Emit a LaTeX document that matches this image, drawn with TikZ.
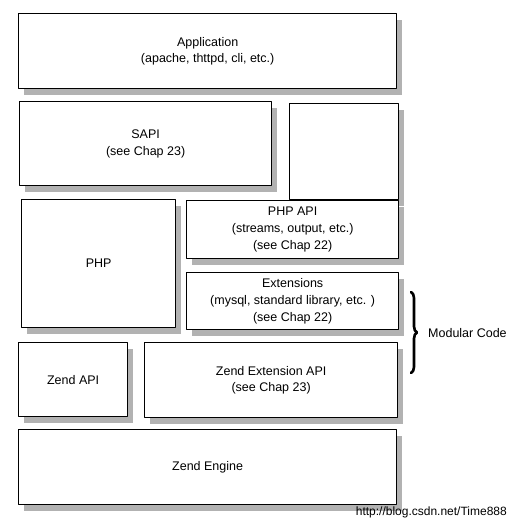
\documentclass[tikz,border=0pt]{standalone}
\usepackage{fontspec}
\setmainfont{Liberation Sans}
\usepackage{tikz}
\usetikzlibrary{decorations.pathreplacing}
\definecolor{sqsqsq}{rgb}{0.7,0.7,0.7}
\definecolor{qqqqqq}{rgb}{0.0,0.0,0.0}
\tikzset{
  layer/.style={draw=qqqqqq,line width=1.3pt,fill=white,inner sep=0pt,align=center,
    anchor=north west,font=\fontsize{12.5}{16.7}\selectfont},
  plain/.style={font=\fontsize{12.5}{16.7}\selectfont,inner sep=0pt}
}
\begin{document}
\begin{tikzpicture}[line cap=round,line join=round,x=1pt,y=-1pt]
\useasboundingbox (0,0) rectangle (518,529);
% shadows first, the boxes go on top
\foreach \x/\y/\w/\h in {18/13/378/75,19/101/252/84,289/103/109/96,21/199/154/128,186/200/212/58,186/272/212/57,18/342/109/74,144/342/253/75,18/429/378/75}
  \fill[color=sqsqsq] (\x+6,\y+7) rectangle (\x+\w+6,\y+\h+7);
\node[layer,minimum width=378pt,minimum height=75pt] (app) at (18,13) {Application\\(apache, thttpd, cli, etc.)};
\node[layer,minimum width=252pt,minimum height=84pt] (sapi) at (19,101) {SAPI\\(see Chap 23)};
\node[layer,minimum width=109pt,minimum height=96pt] (top) at (289,103) {};
\node[layer,minimum width=154pt,minimum height=128pt] (php) at (21,199) {PHP};
\node[layer,minimum width=212pt,minimum height=58pt] (phpapi) at (186,200) {PHP API\\(streams, output, etc.)\\(see Chap 22)};
\node[layer,minimum width=212pt,minimum height=57pt] (ext) at (186,272) {Extensions\\(mysql, standard library, etc. )\\(see Chap 22)};
\node[layer,minimum width=109pt,minimum height=74pt] (zendapi) at (18,342) {Zend API};
\node[layer,minimum width=253pt,minimum height=75pt] (zendext) at (144,342) {Zend Extension API\\(see Chap 23)};
\node[layer,minimum width=378pt,minimum height=75pt] (engine) at (18,429) {Zend Engine};
% brace for the modules
\coordinate (bt) at (411,292);
\coordinate (bb) at (411,373);
\draw[line width=2.6pt,decorate,decoration={brace,amplitude=6pt}] (bt) -- (bb);
\node[plain,anchor=west] (mod) at (428,333) {Modular Code};
\node[plain,anchor=east,font=\fontsize{12}{14}\selectfont] (url) at (507,512) {http://blog.csdn.net/Time888};
\end{tikzpicture}
\end{document}
